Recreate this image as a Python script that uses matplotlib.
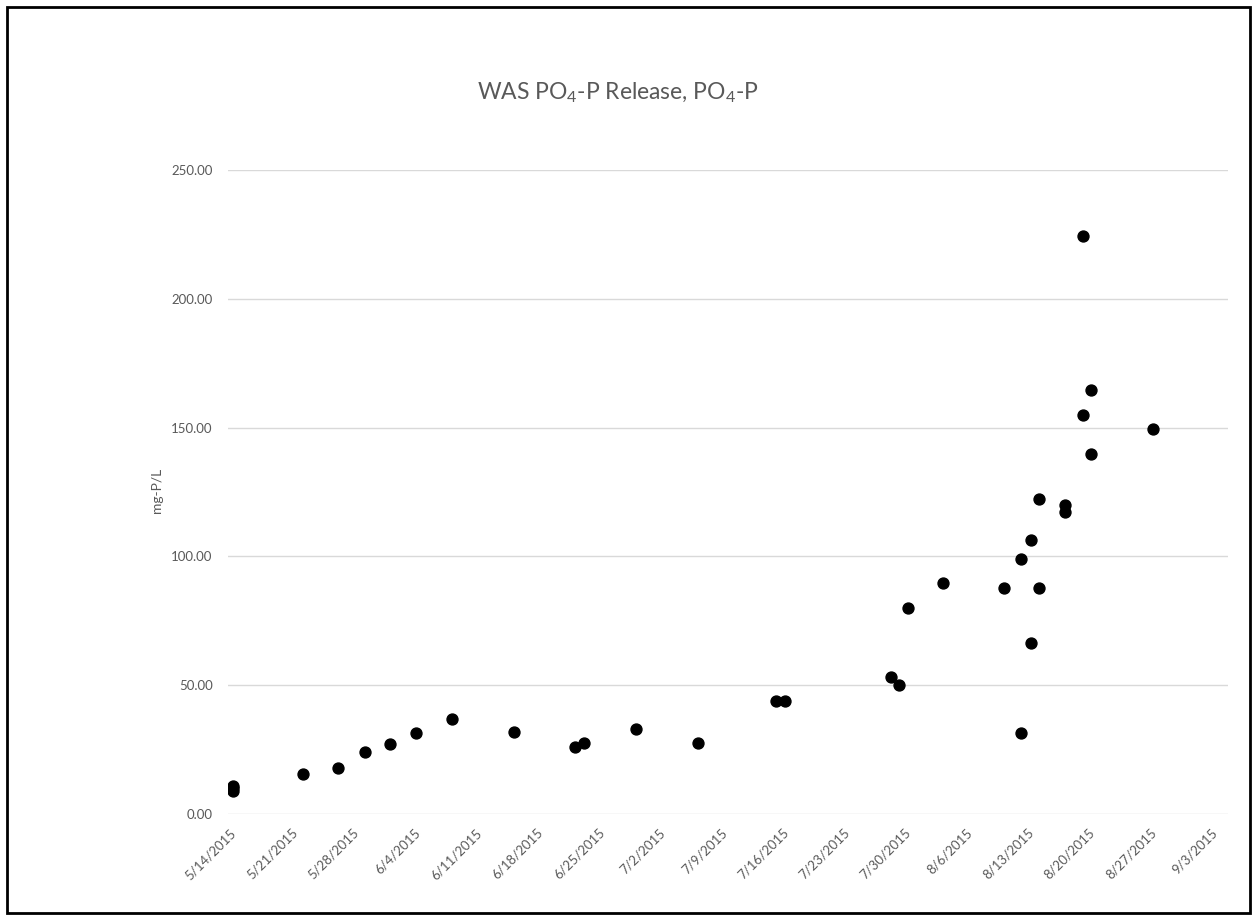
import pandas as pd
import matplotlib
matplotlib.use("Agg")
import matplotlib.pyplot as plt
import matplotlib.dates as mdates
from matplotlib.patches import Rectangle
from matplotlib.transforms import ScaledTranslation

plt.rcParams['font.family'] = ['Lato', 'DejaVu Sans']
plt.rcParams['mathtext.default'] = 'regular'

# sample times (samples taken around midday)
sample_dates = ['2015-05-14 13:00', '2015-05-14 13:00', '2015-05-14 13:00',
                '2015-05-22 14:00', '2015-05-26 14:00', '2015-05-29 14:00',
                '2015-06-01 12:00', '2015-06-04 12:00', '2015-06-08 14:00',
                '2015-06-15 14:00', '2015-06-22 13:00', '2015-06-23 15:00',
                '2015-06-29 14:00', '2015-07-06 14:00', '2015-07-15 13:00',
                '2015-07-16 13:00', '2015-07-28 14:00', '2015-07-29 12:00',
                '2015-07-30 15:00', '2015-08-03 14:00', '2015-08-10 14:00',
                '2015-08-12 12:00', '2015-08-12 12:00', '2015-08-13 14:00',
                '2015-08-13 14:00', '2015-08-14 13:00', '2015-08-14 13:00',
                '2015-08-17 12:00', '2015-08-17 12:00', '2015-08-19 12:00',
                '2015-08-19 12:00', '2015-08-20 12:00', '2015-08-20 12:00',
                '2015-08-27 12:00']
po4_p = [11.0, 10.0, 9.0,
         15.5, 17.7, 24.1,
         27.3, 31.6, 36.9,
         31.7, 26.1, 27.4,
         33.1, 27.4, 43.9,
         43.9, 53.0, 50.2,
         80.1, 89.8, 87.6,
         98.9, 31.6, 106.4,
         66.3, 122.3, 87.6,
         120.0, 117.4, 224.4,
         154.9, 164.6, 139.9,
         149.6]

y_ticks = [0, 50, 100, 150, 200, 250]
x_start = '2015-05-14'
x_end = '2015-09-05 02:00'

gray = '#595959'

fig = plt.figure(figsize=(12.55, 9.16), dpi=100)
ax = fig.add_axes([228 / 1255, 1 - 814 / 916, 1000 / 1255, 644 / 916])

ax.scatter(pd.to_datetime(sample_dates), po4_p, s=62, color='black', zorder=3)

ax.set_ylim(0, 250)
ax.set_yticks(y_ticks)
ax.set_yticklabels(['%.2f' % v for v in y_ticks])
ax.set_xlim(pd.Timestamp(x_start), pd.Timestamp(x_end))
ax.set_xticks(pd.date_range('2015-05-14', '2015-09-03', freq='7D'))
ax.xaxis.set_major_formatter(
    plt.FuncFormatter(lambda v, p: '%d/%d/%d' % (mdates.num2date(v).month,
                                                mdates.num2date(v).day,
                                                mdates.num2date(v).year)))

ax.grid(axis='y', color='#d9d9d9', linewidth=1)
ax.set_axisbelow(True)
for s in ax.spines.values():
    s.set_visible(False)
ax.tick_params(length=0, colors=gray, labelsize=9.5)
ax.tick_params(axis='y', pad=11)
ax.tick_params(axis='x', pad=12)

offset = ScaledTranslation(6 / 100, 0, fig.dpi_scale_trans)
for lbl in ax.get_xticklabels():
    lbl.set_rotation(45)
    lbl.set_ha('right')
    lbl.set_va('center')
    lbl.set_rotation_mode('anchor')
    lbl.set_transform(lbl.get_transform() + offset)

fig.text(618 / 1255, 1 - 93 / 916, 'WAS PO$_4$-P Release, PO$_4$-P',
         ha='center', va='center', fontsize=16.5, color=gray)
fig.text(157 / 1255, 1 - 490 / 916, 'mg-P/L', rotation=90,
         ha='center', va='center', fontsize=10, color=gray)

# outer chart border
fig.patches.append(Rectangle((7 / 1255, 3 / 916), 1243 / 1255, 906 / 916,
                             transform=fig.transFigure, fill=False,
                             edgecolor='black', linewidth=2))

fig.savefig('out.png', dpi=100)
